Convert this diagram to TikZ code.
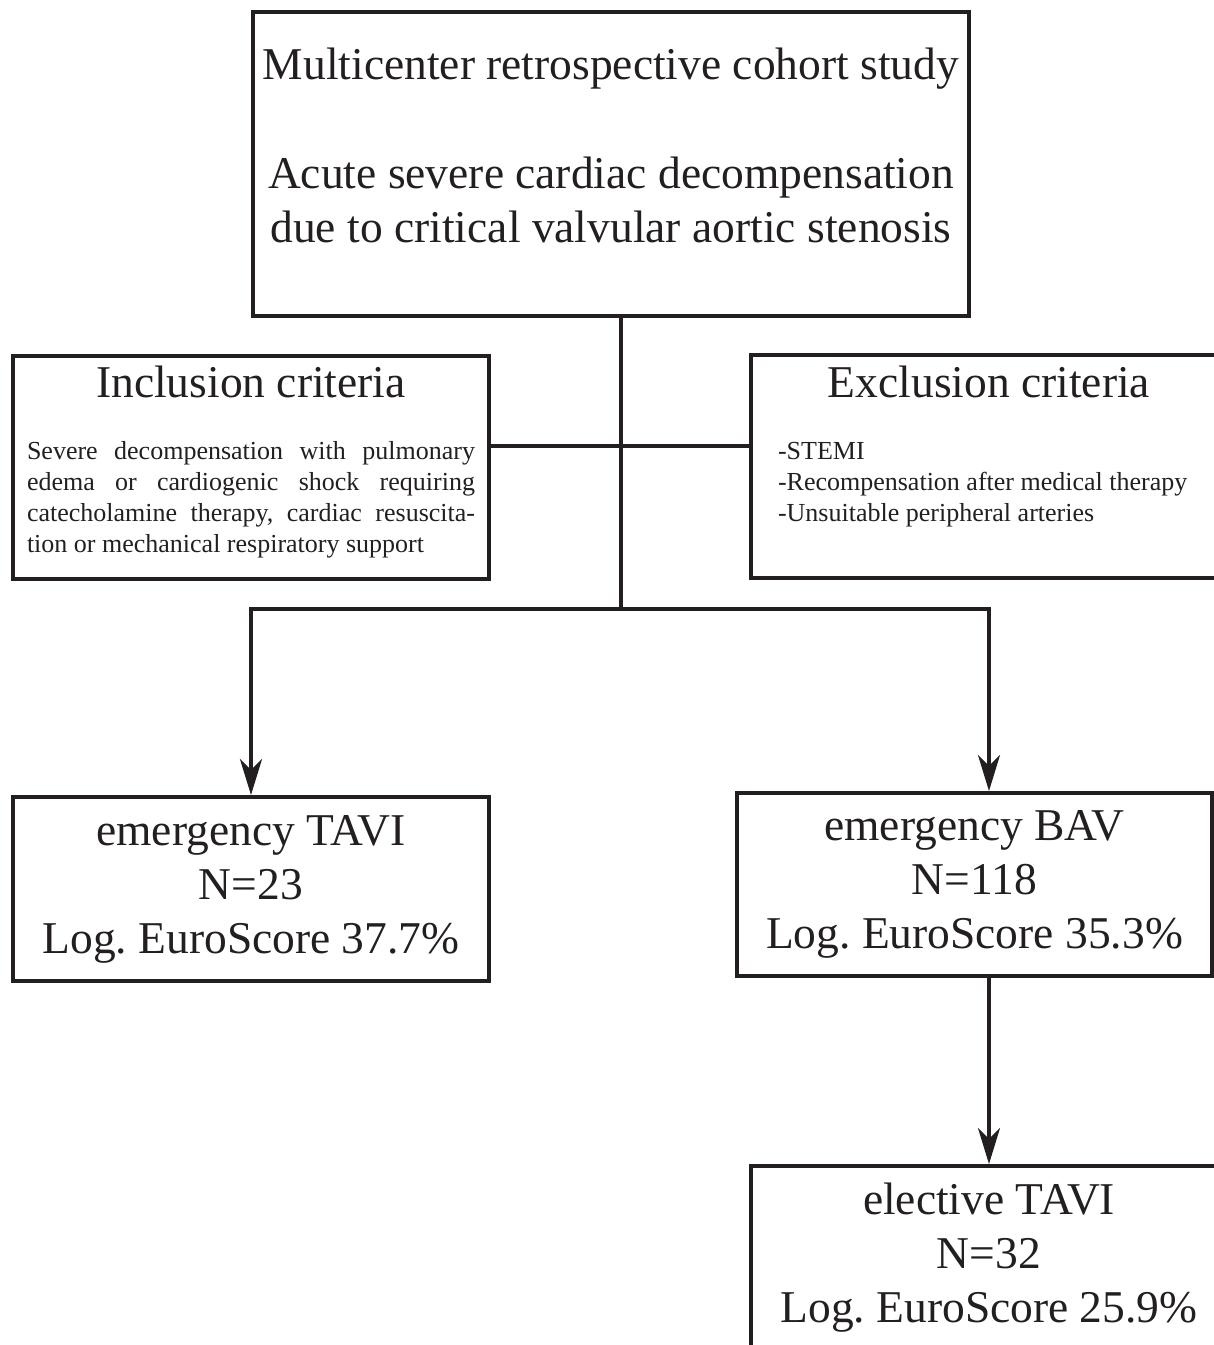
\documentclass[tikz,border=0pt]{standalone}
\usepackage{fontspec}
\setmainfont{Liberation Serif}
\usetikzlibrary{arrows.meta}
\definecolor{ink}{HTML}{231F20}
\setlength{\parindent}{0pt}
\frenchspacing
\newcommand\bigfont{\fontsize{45.5}{54}\selectfont}
\newcommand\smallfont{\fontsize{26}{31}\selectfont}

\begin{document}
\begin{tikzpicture}[x=1pt, y=-1pt, draw=ink, text=ink, line width=4pt,
    box/.style={draw=ink, line width=4pt, inner sep=0pt, align=center, font=\bigfont},
    crit/.style={box, minimum width=476pt, minimum height=223pt, text width=476pt, align=flush center},
    group/.style={box, minimum width=476pt, minimum height=184pt},
    arrow/.style={-{Stealth[length=36pt, width=22pt, inset=11pt]}}]
  \useasboundingbox (0,0) rectangle (1214,1345);
  % study box
  \node[box, minimum width=716pt, minimum height=304pt] (study) at (611,164)
    {Multicenter retrospective cohort study\\[55pt]
     Acute severe cardiac decompensation\\
     due to critical valvular aortic stenosis\rule[-38pt]{0pt}{0pt}};
  % criteria
  \node[crit] (incl) at (251,467)
    {Inclusion criteria\par\vspace{31pt}\smallfont
     \makebox[448pt][s]{Severe decompensation with pulmonary}\par
     \makebox[448pt][s]{edema or cardiogenic shock requiring}\par
     \makebox[448pt][s]{catecholamine therapy, cardiac resuscita-}\par
     \makebox[448pt][l]{tion or mechanical respiratory support}\rule[-16pt]{0pt}{0pt}\par};
  \node[crit] (excl) at (989,466.5)
    {Exclusion criteria\par\vspace{31pt}\smallfont
     \makebox[422pt][l]{-STEMI}\par
     \makebox[422pt][l]{-Recompensation after medical therapy}\par
     \makebox[422pt][l]{-Unsuitable peripheral arteries}\rule[-46pt]{0pt}{0pt}\par};
  % treatment groups
  \node[group] (tavi) at (251,889)
    {emergency TAVI\\ N=23\\ Log. EuroScore 37.7\%};
  \node[group, minimum width=475pt, minimum height=183pt] (bav) at (974.5,884.5)
    {emergency BAV\\ N=118\\ Log. EuroScore 35.3\%};
  \node[group] (elective) at (989,1258)
    {elective TAVI\\ N=32\\ Log. EuroScore 25.9\%};
  % connectors
  \coordinate (join) at (621,446);
  \coordinate (split) at (621,609);
  \draw (study.south -| split) -- (split);
  \draw (incl.east |- join) -- (excl.west |- join);
  \draw[arrow] (split) -| (tavi.north);
  \draw[arrow] (split) -| (elective.north |- bav.north);
  \draw[arrow] (elective.north |- bav.south) -- (elective.north);
\end{tikzpicture}
\end{document}
